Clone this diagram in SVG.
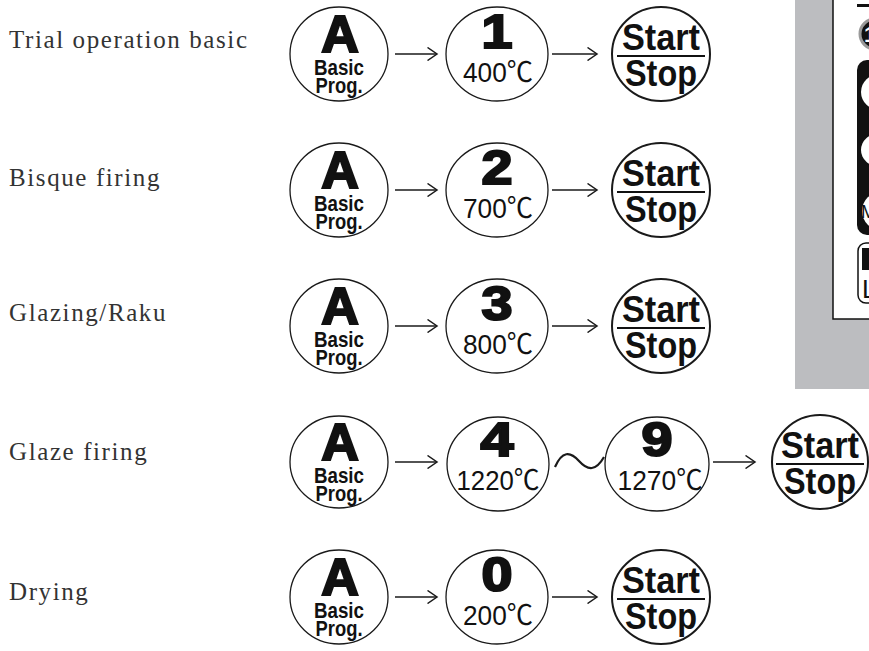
<svg xmlns="http://www.w3.org/2000/svg" width="869" height="651" viewBox="0 0 869 651">
<defs>
<style>
.c{fill:#fff;stroke:#1a1a1a;stroke-width:1.3}
.cs{fill:#fff;stroke:#1a1a1a;stroke-width:2}
.lbl{font-family:"Liberation Serif","Times New Roman",serif;font-size:25px;fill:#333;letter-spacing:1.6px}
.big{font-family:"Liberation Sans",Arial,sans-serif;font-weight:bold;font-size:52px;text-anchor:middle;fill:#111;stroke:#111;stroke-width:2.2}
.dig{font-family:"Liberation Sans",Arial,sans-serif;font-weight:bold;font-size:48px;text-anchor:middle;fill:#111;stroke:#111;stroke-width:2.2}
.sm{font-family:"Liberation Sans",Arial,sans-serif;font-weight:bold;font-size:22px;text-anchor:middle;fill:#111}
.tmp{font-family:"Liberation Sans","Noto Sans CJK JP",sans-serif;font-size:28px;text-anchor:middle;fill:#111}
.ss{font-family:"Liberation Sans",Arial,sans-serif;font-weight:bold;font-size:36px;text-anchor:middle;fill:#111}
.ul{stroke:#111;stroke-width:2}
.ar{fill:none;stroke:#1a1a1a;stroke-width:1.5;marker-end:url(#ah)}
</style>
<marker id="ah" viewBox="0 0 12 14" refX="10.5" refY="7" markerWidth="12" markerHeight="14" markerUnits="userSpaceOnUse" orient="auto">
<path d="M1,0.5 L10.5,7 L1,13.5" fill="none" stroke="#1a1a1a" stroke-width="1.5"/>
</marker>
</defs>
<rect width="869" height="651" fill="#fff"/>

<!-- right panel -->
<g id="panel">
<rect x="795" y="0" width="74" height="389" fill="#bcbdc0"/>
<rect x="833" y="-2" width="40" height="321" fill="#fff" stroke="#111" stroke-width="1.5"/>
<rect x="857" y="4" width="14" height="3" fill="#111"/>
<circle cx="875" cy="34" r="15" fill="#111" stroke="#9a9a9a" stroke-width="3"/>
<text x="870" y="42" font-family="Liberation Sans,sans-serif" font-weight="bold" font-size="22" fill="#fff" text-anchor="middle">1</text>
<rect x="857" y="60" width="30" height="175" rx="10" fill="#111"/>
<ellipse cx="880" cy="92" rx="19" ry="18" fill="#fff"/>
<ellipse cx="880" cy="150" rx="19" ry="17" fill="#fff"/>
<ellipse cx="881" cy="211" rx="19" ry="19" fill="#fff"/>
<text x="861" y="218" font-family="Liberation Sans,sans-serif" font-size="18" fill="#111">M</text>
<rect x="858" y="243" width="30" height="60" rx="8" fill="#fff" stroke="#111" stroke-width="1.5"/>
<rect x="862" y="248" width="10" height="22" fill="#111"/>
<text x="862" y="298" font-family="Liberation Sans,sans-serif" font-size="26" fill="#111">L</text>
</g>

<!-- labels -->
<g id="labels">
<text class="lbl" x="9" y="48">Trial operation basic</text>
<text class="lbl" x="9" y="186">Bisque firing</text>
<text class="lbl" x="9" y="321">Glazing/Raku</text>
<text class="lbl" x="9" y="460">Glaze firing</text>
<text class="lbl" x="9" y="600">Drying</text>
</g>

<!-- connectors -->
<g id="connectors">
<line class="ar" x1="395" y1="54" x2="437" y2="54"/>
<line class="ar" x1="552" y1="54" x2="597" y2="54"/>
<line class="ar" x1="395" y1="190" x2="437" y2="190"/>
<line class="ar" x1="552" y1="190" x2="597" y2="190"/>
<line class="ar" x1="395" y1="326" x2="437" y2="326"/>
<line class="ar" x1="552" y1="326" x2="597" y2="326"/>
<line class="ar" x1="395" y1="462" x2="437" y2="462"/>
<path d="M555,467 C562,451 570,451 579,461 C588,471 596,471 604,457" fill="none" stroke="#1a1a1a" stroke-width="2.2"/>
<line class="ar" x1="713" y1="462" x2="755" y2="462"/>
<line class="ar" x1="395" y1="597" x2="437" y2="597"/>
<line class="ar" x1="552" y1="597" x2="597" y2="597"/>
</g>

<!-- row 1 -->
<g id="r1-a"><ellipse class="c" cx="339" cy="54" rx="49" ry="47"/>
<text class="big" x="340" y="52">A</text>
<text class="sm" x="339" y="75" textLength="50" lengthAdjust="spacingAndGlyphs">Basic</text>
<text class="sm" x="339" y="93" textLength="47" lengthAdjust="spacingAndGlyphs">Prog.</text></g>
<g id="r1-n"><ellipse class="c" cx="497" cy="54" rx="51" ry="47"/>
<text class="dig" x="497" y="48" textLength="31" lengthAdjust="spacingAndGlyphs">1</text>
<text class="tmp" x="498" y="82" textLength="70" lengthAdjust="spacingAndGlyphs">400℃</text></g>
<g id="r1-s"><ellipse class="cs" cx="661" cy="54" rx="49" ry="47"/>
<text class="ss" x="661" y="50" textLength="78" lengthAdjust="spacingAndGlyphs">Start</text>
<line class="ul" x1="617" y1="56" x2="705" y2="56"/>
<text class="ss" x="661" y="86" textLength="72" lengthAdjust="spacingAndGlyphs">Stop</text></g>

<!-- row 2 -->
<g id="r2-a"><ellipse class="c" cx="339" cy="190" rx="49" ry="47"/>
<text class="big" x="340" y="188">A</text>
<text class="sm" x="339" y="211" textLength="50" lengthAdjust="spacingAndGlyphs">Basic</text>
<text class="sm" x="339" y="229" textLength="47" lengthAdjust="spacingAndGlyphs">Prog.</text></g>
<g id="r2-n"><ellipse class="c" cx="497" cy="190" rx="51" ry="47"/>
<text class="dig" x="497" y="184" textLength="31" lengthAdjust="spacingAndGlyphs">2</text>
<text class="tmp" x="498" y="218" textLength="70" lengthAdjust="spacingAndGlyphs">700℃</text></g>
<g id="r2-s"><ellipse class="cs" cx="661" cy="190" rx="49" ry="47"/>
<text class="ss" x="661" y="186" textLength="78" lengthAdjust="spacingAndGlyphs">Start</text>
<line class="ul" x1="617" y1="192" x2="705" y2="192"/>
<text class="ss" x="661" y="222" textLength="72" lengthAdjust="spacingAndGlyphs">Stop</text></g>

<!-- row 3 -->
<g id="r3-a"><ellipse class="c" cx="339" cy="326" rx="49" ry="47"/>
<text class="big" x="340" y="324">A</text>
<text class="sm" x="339" y="347" textLength="50" lengthAdjust="spacingAndGlyphs">Basic</text>
<text class="sm" x="339" y="365" textLength="47" lengthAdjust="spacingAndGlyphs">Prog.</text></g>
<g id="r3-n"><ellipse class="c" cx="497" cy="326" rx="51" ry="47"/>
<text class="dig" x="497" y="320" textLength="31" lengthAdjust="spacingAndGlyphs">3</text>
<text class="tmp" x="498" y="354" textLength="70" lengthAdjust="spacingAndGlyphs">800℃</text></g>
<g id="r3-s"><ellipse class="cs" cx="661" cy="326" rx="49" ry="47"/>
<text class="ss" x="661" y="322" textLength="78" lengthAdjust="spacingAndGlyphs">Start</text>
<line class="ul" x1="617" y1="328" x2="705" y2="328"/>
<text class="ss" x="661" y="358" textLength="72" lengthAdjust="spacingAndGlyphs">Stop</text></g>

<!-- row 4 -->
<g id="r4-a"><ellipse class="c" cx="339" cy="462" rx="49" ry="46"/>
<text class="big" x="340" y="460">A</text>
<text class="sm" x="339" y="483" textLength="50" lengthAdjust="spacingAndGlyphs">Basic</text>
<text class="sm" x="339" y="501" textLength="47" lengthAdjust="spacingAndGlyphs">Prog.</text></g>
<g id="r4-n1"><ellipse class="c" cx="498" cy="464" rx="51" ry="47"/>
<text class="dig" x="497" y="456" textLength="33" lengthAdjust="spacingAndGlyphs">4</text>
<text class="tmp" x="498" y="490" textLength="83" lengthAdjust="spacingAndGlyphs">1220℃</text></g>
<g id="r4-n2"><ellipse class="c" cx="657" cy="464" rx="52" ry="47"/>
<text class="dig" x="657" y="456" textLength="31" lengthAdjust="spacingAndGlyphs">9</text>
<text class="tmp" x="660" y="490" textLength="85" lengthAdjust="spacingAndGlyphs">1270℃</text></g>
<g id="r4-s"><ellipse class="cs" cx="820" cy="462" rx="48" ry="47"/>
<text class="ss" x="820" y="458" textLength="78" lengthAdjust="spacingAndGlyphs">Start</text>
<line class="ul" x1="776" y1="464" x2="864" y2="464"/>
<text class="ss" x="820" y="494" textLength="72" lengthAdjust="spacingAndGlyphs">Stop</text></g>

<!-- row 5 -->
<g id="r5-a"><ellipse class="c" cx="339" cy="597" rx="49" ry="47"/>
<text class="big" x="340" y="595">A</text>
<text class="sm" x="339" y="618" textLength="50" lengthAdjust="spacingAndGlyphs">Basic</text>
<text class="sm" x="339" y="636" textLength="47" lengthAdjust="spacingAndGlyphs">Prog.</text></g>
<g id="r5-n"><ellipse class="c" cx="497" cy="597" rx="51" ry="47"/>
<text class="dig" x="497" y="591" textLength="31" lengthAdjust="spacingAndGlyphs">0</text>
<text class="tmp" x="498" y="625" textLength="70" lengthAdjust="spacingAndGlyphs">200℃</text></g>
<g id="r5-s"><ellipse class="cs" cx="661" cy="597" rx="49" ry="47"/>
<text class="ss" x="661" y="593" textLength="78" lengthAdjust="spacingAndGlyphs">Start</text>
<line class="ul" x1="617" y1="599" x2="705" y2="599"/>
<text class="ss" x="661" y="629" textLength="72" lengthAdjust="spacingAndGlyphs">Stop</text></g>
</svg>
